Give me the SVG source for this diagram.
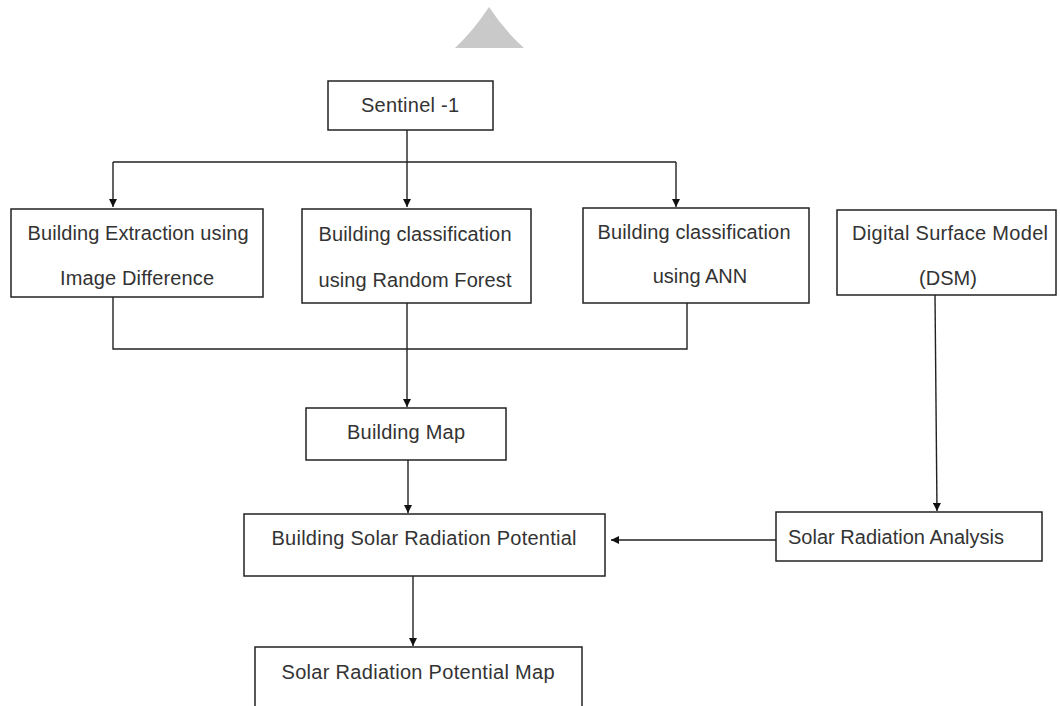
<svg xmlns="http://www.w3.org/2000/svg" width="1060" height="706" viewBox="0 0 1060 706">
<defs>
<marker id="ah" viewBox="0 0 10 10" refX="10" refY="5" markerWidth="8" markerHeight="8" markerUnits="userSpaceOnUse" orient="auto">
<path d="M0,0 L10,5 L0,10 Z" fill="#111"/>
</marker>
<style>
.box{fill:#fff;stroke:#222;stroke-width:1.5}
.t{font-family:"Liberation Sans",Arial,sans-serif;font-size:20px;fill:#333;text-anchor:middle}
.c{fill:none;stroke:#222;stroke-width:1.4}
</style>
</defs>
<rect width="1060" height="706" fill="#fff"/>
<path d="M455,48 Q474,30 489,7 Q504,30 524,48 Z" fill="#c9c9c9"/>
<g id="connectors">
<path class="c" d="M407,130 V162"/>
<path class="c" d="M113,162 H676"/>
<path class="c" d="M113,162 V207" marker-end="url(#ah)"/>
<path class="c" d="M407,162 V207" marker-end="url(#ah)"/>
<path class="c" d="M676,162 V207" marker-end="url(#ah)"/>
<path class="c" d="M113,297 V349 H687 V303"/>
<path class="c" d="M407,303 V349"/>
<path class="c" d="M407,349 V407" marker-end="url(#ah)"/>
<path class="c" d="M408,460 V513" marker-end="url(#ah)"/>
<path class="c" d="M413,576 V646" marker-end="url(#ah)"/>
<path class="c" d="M935,295 L937,511" marker-end="url(#ah)"/>
<path class="c" d="M776,540 H611" marker-end="url(#ah)"/>
</g>
<g id="sentinel"><rect class="box" x="328" y="81" width="165" height="49"/><text class="t" x="410" y="112" textLength="98">Sentinel -1</text></g>
<g id="extraction"><rect class="box" x="11" y="209" width="252" height="88"/><text class="t" x="138" y="240" textLength="221">Building Extraction using</text><text class="t" x="137" y="285" textLength="154">Image Difference</text></g>
<g id="rf"><rect class="box" x="302" y="209" width="229" height="94"/><text class="t" x="415" y="241" textLength="193">Building classification</text><text class="t" x="415" y="287" textLength="193">using Random Forest</text></g>
<g id="ann"><rect class="box" x="583" y="208" width="226" height="95"/><text class="t" x="694" y="239" textLength="193">Building classification</text><text class="t" x="700" y="283">using ANN</text></g>
<g id="dsm"><rect class="box" x="837" y="210" width="219" height="85"/><text class="t" x="950" y="240" textLength="196">Digital Surface Model</text><text class="t" x="948" y="285">(DSM)</text></g>
<g id="buildingmap"><rect class="box" x="306" y="408" width="200" height="52"/><text class="t" x="406" y="439" textLength="118">Building Map</text></g>
<g id="bsrp"><rect class="box" x="244" y="514" width="361" height="62"/><text class="t" x="424" y="545" textLength="305">Building Solar Radiation Potential</text></g>
<g id="sra"><rect class="box" x="776" y="512" width="266" height="49"/><text class="t" x="896" y="544" textLength="216">Solar Radiation Analysis</text></g>
<g id="srpm"><rect class="box" x="255" y="647" width="327" height="70"/><text class="t" x="418" y="679" textLength="273">Solar Radiation Potential Map</text></g>
</svg>
